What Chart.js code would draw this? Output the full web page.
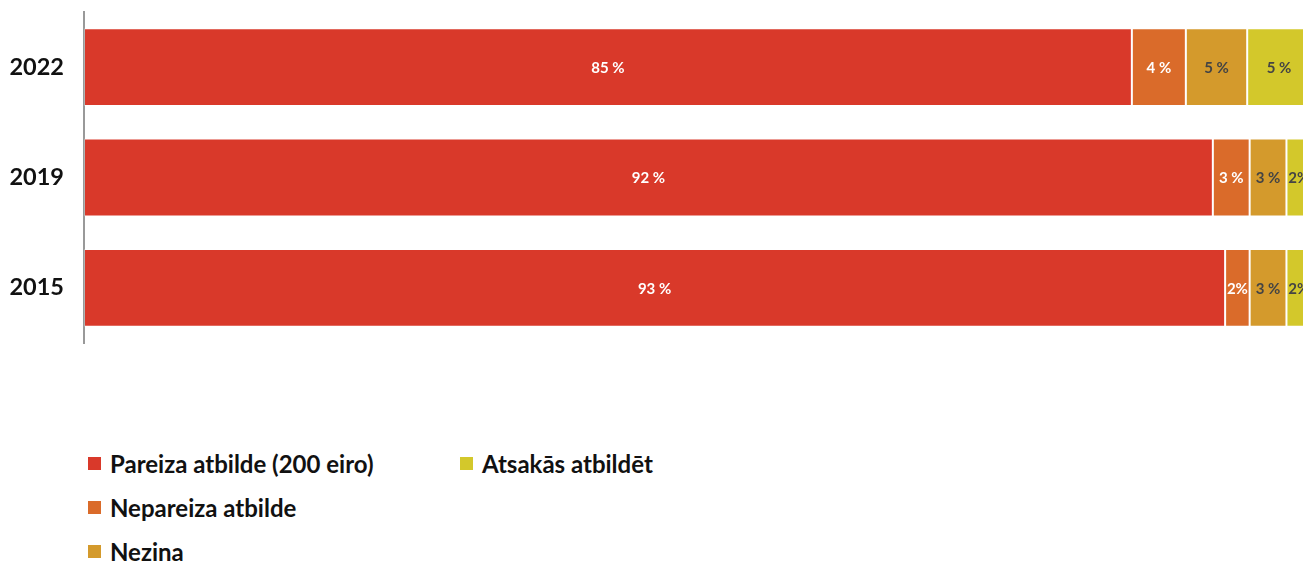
<!DOCTYPE html>
<html>
<head>
<meta charset="utf-8">
<script src="https://cdn.jsdelivr.net/npm/chart.js@4"></script>
<style>
    body { margin: 0; background: #fff; width: 1303px; height: 561px; overflow: hidden; font-family: Lato, sans-serif; }
    #wrap { position: relative; width: 1303px; height: 561px; }
    #chart { position: absolute; left: 0; top: 0; }
    #legend {
        position: absolute; left: 88px; top: 449px;
        display: grid; grid-auto-flow: column;
        grid-template-rows: repeat(3, 44px); grid-template-columns: 372px auto;
    }
    .item { display: flex; align-items: center; height: 28px; font-weight: 700; font-size: 24px; color: #111; white-space: nowrap; }
    .box { width: 13px; height: 13px; margin-right: 9px; flex: none; }
</style>
</head>
<body>
<div id="wrap">
    <canvas id="chart" width="1311" height="355"></canvas>
    <div id="legend"></div>
</div>
<script>
// years, top to bottom
const years = ['2022', '2019', '2015'];

const seriesNames = ['Pareiza atbilde (200 eiro)', 'Nepareiza atbilde', 'Nezina', 'Atsakās atbildēt'];
const seriesColors = ['#d9392a', '#da6b2a', '#d49a2c', '#d3c82b'];
const labelColors = ['#ffffff', '#ffffff', '#444444', '#444444'];

// shares in %, per year
const correct = [85.4, 92, 93];
const wrong = [4.4, 3, 2];
const dontKnow = [5.0, 3, 3];
const refused = [5.2, 2, 2];

const seriesValues = [correct, wrong, dontKnow, refused];

// draw value labels in the middle of each segment
const segmentLabels = {
    id: 'segmentLabels',
    afterDatasetsDraw(chart) {
        const ctx = chart.ctx;
        ctx.save();
        ctx.font = 'bold 15px Lato';
        ctx.textAlign = 'center';
        ctx.textBaseline = 'middle';
        chart.data.datasets.forEach((ds, i) => {
            const meta = chart.getDatasetMeta(i);
            meta.data.forEach((bar, j) => {
                const v = Math.round(ds.data[j]);
                const text = ds.data[j] < 2.5 ? v + '%' : v + ' %';
                const p = bar.getCenterPoint();
                ctx.fillStyle = labelColors[i];
                ctx.fillText(text, p.x, p.y + 1);
            });
        });
        ctx.restore();
    }
};

const datasets = seriesNames.map((name, i) => ({
    label: name,
    data: seriesValues[i],
    backgroundColor: seriesColors[i],
    borderColor: 'rgba(255,255,255,0.25)',
    borderWidth: 1,
    borderSkipped: false,
    categoryPercentage: 0.705,
    barPercentage: 1
}));

new Chart(document.getElementById('chart'), {
    type: 'bar',
    data: { labels: years, datasets: datasets },
    options: {
        indexAxis: 'y',
        responsive: false,
        animation: false,
        layout: { padding: { top: 12, bottom: 12 } },
        scales: {
            x: {
                stacked: true,
                min: 0,
                max: 100,
                display: false
            },
            y: {
                stacked: true,
                grid: { display: false, drawTicks: false },
                border: { display: true, color: '#999', width: 2 },
                ticks: {
                    color: '#111',
                    font: { family: 'Lato', size: 23.5, weight: 'bold' },
                    padding: 20
                },
                afterFit(scale) {
                    scale.width = 84;
                    scale.paddingTop = 0;
                    scale.paddingBottom = 0;
                }
            }
        },
        plugins: {
            legend: { display: false },
            tooltip: { enabled: false }
        }
    },
    plugins: [segmentLabels]
});

// legend, filled column by column
const legend = document.getElementById('legend');
seriesNames.forEach((name, i) => {
    const item = document.createElement('div');
    item.className = 'item';
    item.innerHTML = '<span class="box" style="background:' + seriesColors[i] + '"></span>' + name;
    legend.appendChild(item);
});
</script>
</body>
</html>
